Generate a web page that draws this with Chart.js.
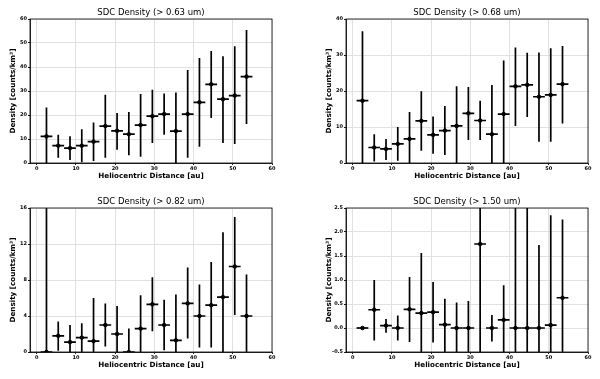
<!DOCTYPE html>
<html>
<head>
<meta charset="utf-8">
<script src="https://cdn.jsdelivr.net/npm/chart.js@4"></script>
<style>
  html, body { margin: 0; padding: 0; background: #fff; }
  #wrap { position: relative; width: 600px; height: 379px; }
  .panel { position: absolute; width: 300px; height: 190px; }
</style>
</head>
<body>
<div id="wrap">
  <div class="panel" style="left:0;top:0"><canvas id="c1"></canvas></div>
  <div class="panel" style="left:300px;top:0"><canvas id="c2"></canvas></div>
  <div class="panel" style="left:0;top:189px"><canvas id="c3"></canvas></div>
  <div class="panel" style="left:300px;top:189px"><canvas id="c4"></canvas></div>
</div>
<script>
// bin centres [au] and half bin width
const distances = [2.5, 5.5, 8.5, 11.5, 14.5, 17.5, 20.5, 23.5, 26.5, 29.5, 32.5, 35.5, 38.5, 41.5, 44.5, 47.5, 50.5, 53.5];
const binHalfWidth = 1.5;
const xTicks = [0, 10, 20, 30, 40, 50, 60];

// > 0.63 um
const dens063 = [11.1, 7.2, 6.2, 7.2, 8.9, 15.4, 13.4, 12.0, 15.8, 19.5, 20.4, 13.3, 20.4, 25.3, 32.8, 26.6, 28.1, 36.0];
const lo063 = [-0.9, 2.2, 1.2, 0.3, 0.8, 2.2, 5.5, 3.2, 2.6, 8.3, 11.8, -2.8, 2.2, 6.8, 18.7, 8.3, 7.9, 16.3];
const hi063 = [23.1, 11.8, 11.1, 14.1, 16.9, 28.4, 20.8, 21.3, 28.7, 30.5, 29.0, 29.4, 38.8, 43.8, 46.7, 44.5, 48.6, 55.4];
const yTicks063 = [0, 10, 20, 30, 40, 50, 60];

// > 0.68 um
const dens068 = [17.3, 4.3, 3.9, 5.3, 6.7, 11.7, 7.8, 9.0, 10.3, 13.8, 11.8, 8.0, 13.6, 21.3, 21.7, 18.4, 18.9, 21.9];
const lo068 = [-2.0, 0.4, 0.8, 0.6, -0.8, 3.4, 2.6, 2.2, -0.7, 6.4, 6.4, -5.7, -1.3, 10.3, 12.8, 5.9, 5.9, 11.0];
const hi068 = [36.6, 8.0, 6.7, 10.0, 14.2, 19.9, 12.9, 15.8, 21.3, 21.1, 17.3, 21.7, 28.5, 32.1, 30.6, 30.7, 31.9, 32.5];
const yTicks068 = [0, 10, 20, 30, 40];

// > 0.82 um
const dens082 = [0, 1.8, 1.1, 1.6, 1.2, 3.0, 2.0, 0, 2.6, 5.3, 3.0, 1.3, 5.4, 4.0, 5.2, 6.1, 9.5, 4.0];
const lo082 = [-18, 0.15, -0.8, 0, -3.6, 0.6, -1.1, -2.6, -1.1, 2.3, 0.2, -3.8, 1.5, 0.5, 0.5, -1.1, 4.1, -0.6];
const hi082 = [18, 3.4, 3.0, 3.2, 6.0, 5.4, 5.1, 2.6, 6.3, 8.3, 5.8, 6.4, 9.4, 7.5, 10.0, 13.3, 15.0, 8.6];
const yTicks082 = [0, 4, 8, 12, 16];

// > 1.50 um
const dens150 = [0, 0.38, 0.05, 0, 0.39, 0.31, 0.33, 0.07, 0, 0, 1.75, 0, 0.17, 0, 0, 0, 0.06, 0.63];
const lo150 = [0, -0.26, -0.1, -0.26, -0.29, -0.95, -0.3, -0.5, -0.53, -0.56, -1.0, -0.28, -0.55, -3.0, -3.0, -1.73, -2.23, -1.0];
const hi150 = [0, 1.0, 0.19, 0.26, 1.06, 1.56, 0.96, 0.61, 0.53, 0.56, 4.0, 0.27, 0.89, 3.0, 3.0, 1.73, 2.35, 2.26];
const yTicks150 = [-0.5, 0, 0.5, 1.0, 1.5, 2.0, 2.5];

const FONT = "'DejaVu Sans', sans-serif";

// centre the title over the plot box, like matplotlib does
const centreTitle = {
  id: "centreTitle",
  afterLayout(chart) {
    const t = chart.titleBlock;
    if (t) {
      t.left = chart.chartArea.left;
      t.right = chart.chartArea.right;
      t.width = t.right - t.left;
    }
  }
};

const errorBars = {
  id: "errorBars",
  afterDatasetsDraw(chart, args, opts) {
    const { ctx, chartArea: a, scales: { x, y } } = chart;
    ctx.save();
    ctx.beginPath();
    ctx.rect(a.left, a.top, a.right - a.left, a.bottom - a.top);
    ctx.clip();
    ctx.strokeStyle = "#000";
    ctx.lineWidth = 1.7;
    opts.values.forEach((v, i) => {
      const px = x.getPixelForValue(distances[i]);
      const py = y.getPixelForValue(v);
      ctx.beginPath();
      ctx.moveTo(px, y.getPixelForValue(opts.lo[i]));
      ctx.lineTo(px, y.getPixelForValue(opts.hi[i]));
      ctx.moveTo(x.getPixelForValue(distances[i] - binHalfWidth), py);
      ctx.lineTo(x.getPixelForValue(distances[i] + binHalfWidth), py);
      ctx.stroke();
    });
    ctx.restore();
    // full box like matplotlib spines
    ctx.save();
    ctx.strokeStyle = "#000";
    ctx.lineWidth = 0.8;
    ctx.strokeRect(a.left, a.top, a.right - a.left, a.bottom - a.top);
    ctx.restore();
  }
};

function makePanel(id, title, values, lo, hi, yTicks, decimals, padLeft, padRight) {
  const yMin = yTicks[0];
  const yMax = yTicks[yTicks.length - 1];
  new Chart(document.getElementById(id), {
    type: "scatter",
    data: {
      datasets: [{
        data: distances.map((d, i) => ({ x: d, y: values[i] })),
        backgroundColor: "#000",
        borderColor: "#000",
        pointRadius: 1.8,
        pointHoverRadius: 1.8
      }]
    },
    options: {
      responsive: true,
      maintainAspectRatio: false,
      animation: false,
      layout: { padding: { left: padLeft, right: padRight, top: 0, bottom: 0 } },
      plugins: {
        legend: { display: false },
        tooltip: { enabled: false },
        title: {
          display: true,
          text: title,
          color: "#000",
          font: { family: FONT, size: 8.5, weight: "normal", lineHeight: 1.2 },
          padding: { top: 7.9, bottom: 0.9 }
        },
        errorBars: { values, lo, hi }
      },
      scales: {
        x: {
          type: "linear",
          min: -1.7,
          max: 60,
          afterBuildTicks: (s) => { s.ticks = xTicks.map((v) => ({ value: v })); },
          afterFit: (s) => { s.height = 27; },
          ticks: { color: "#000", font: { family: FONT, size: 5, weight: "bold" }, padding: 0.5, maxRotation: 0 },
          grid: { color: "#dedede", lineWidth: 0.9, tickColor: "#000", tickLength: 2 },
          border: { display: true, color: "#000", width: 0.8 },
          title: {
            display: true,
            text: "Heliocentric Distance [au]",
            color: "#000",
            font: { family: FONT, size: 7.2, weight: "bold", lineHeight: 1.2 },
            padding: { top: 0, bottom: 9.6 }
          }
        },
        y: {
          type: "linear",
          min: yMin,
          max: yMax,
          afterBuildTicks: (s) => { s.ticks = yTicks.map((v) => ({ value: v })); },
          afterFit: (s) => { s.width = 30; },
          ticks: {
            color: "#000",
            font: { family: FONT, size: 5, weight: "bold" },
            padding: 1,
            callback: (v) => Number(v).toFixed(decimals)
          },
          grid: { color: "#dedede", lineWidth: 0.9, tickColor: "#000", tickLength: 2 },
          border: { display: true, color: "#000", width: 0.8 },
          title: {
            display: true,
            text: "Density [counts/km³]",
            color: "#000",
            font: { family: FONT, size: 7.2, weight: "bold", lineHeight: 1.2 },
            padding: { top: 8.6, bottom: 0 }
          }
        }
      }
    },
    plugins: [centreTitle, errorBars]
  });
}

makePanel("c1", "SDC Density (> 0.63 um)", dens063, lo063, hi063, yTicks063, 0, 0, 28);
makePanel("c2", "SDC Density (> 0.68 um)", dens068, lo068, hi068, yTicks068, 0, 16, 12);
makePanel("c3", "SDC Density (> 0.82 um)", dens082, lo082, hi082, yTicks082, 0, 0, 28);
makePanel("c4", "SDC Density (> 1.50 um)", dens150, lo150, hi150, yTicks150, 1, 16, 12);
</script>
</body>
</html>
